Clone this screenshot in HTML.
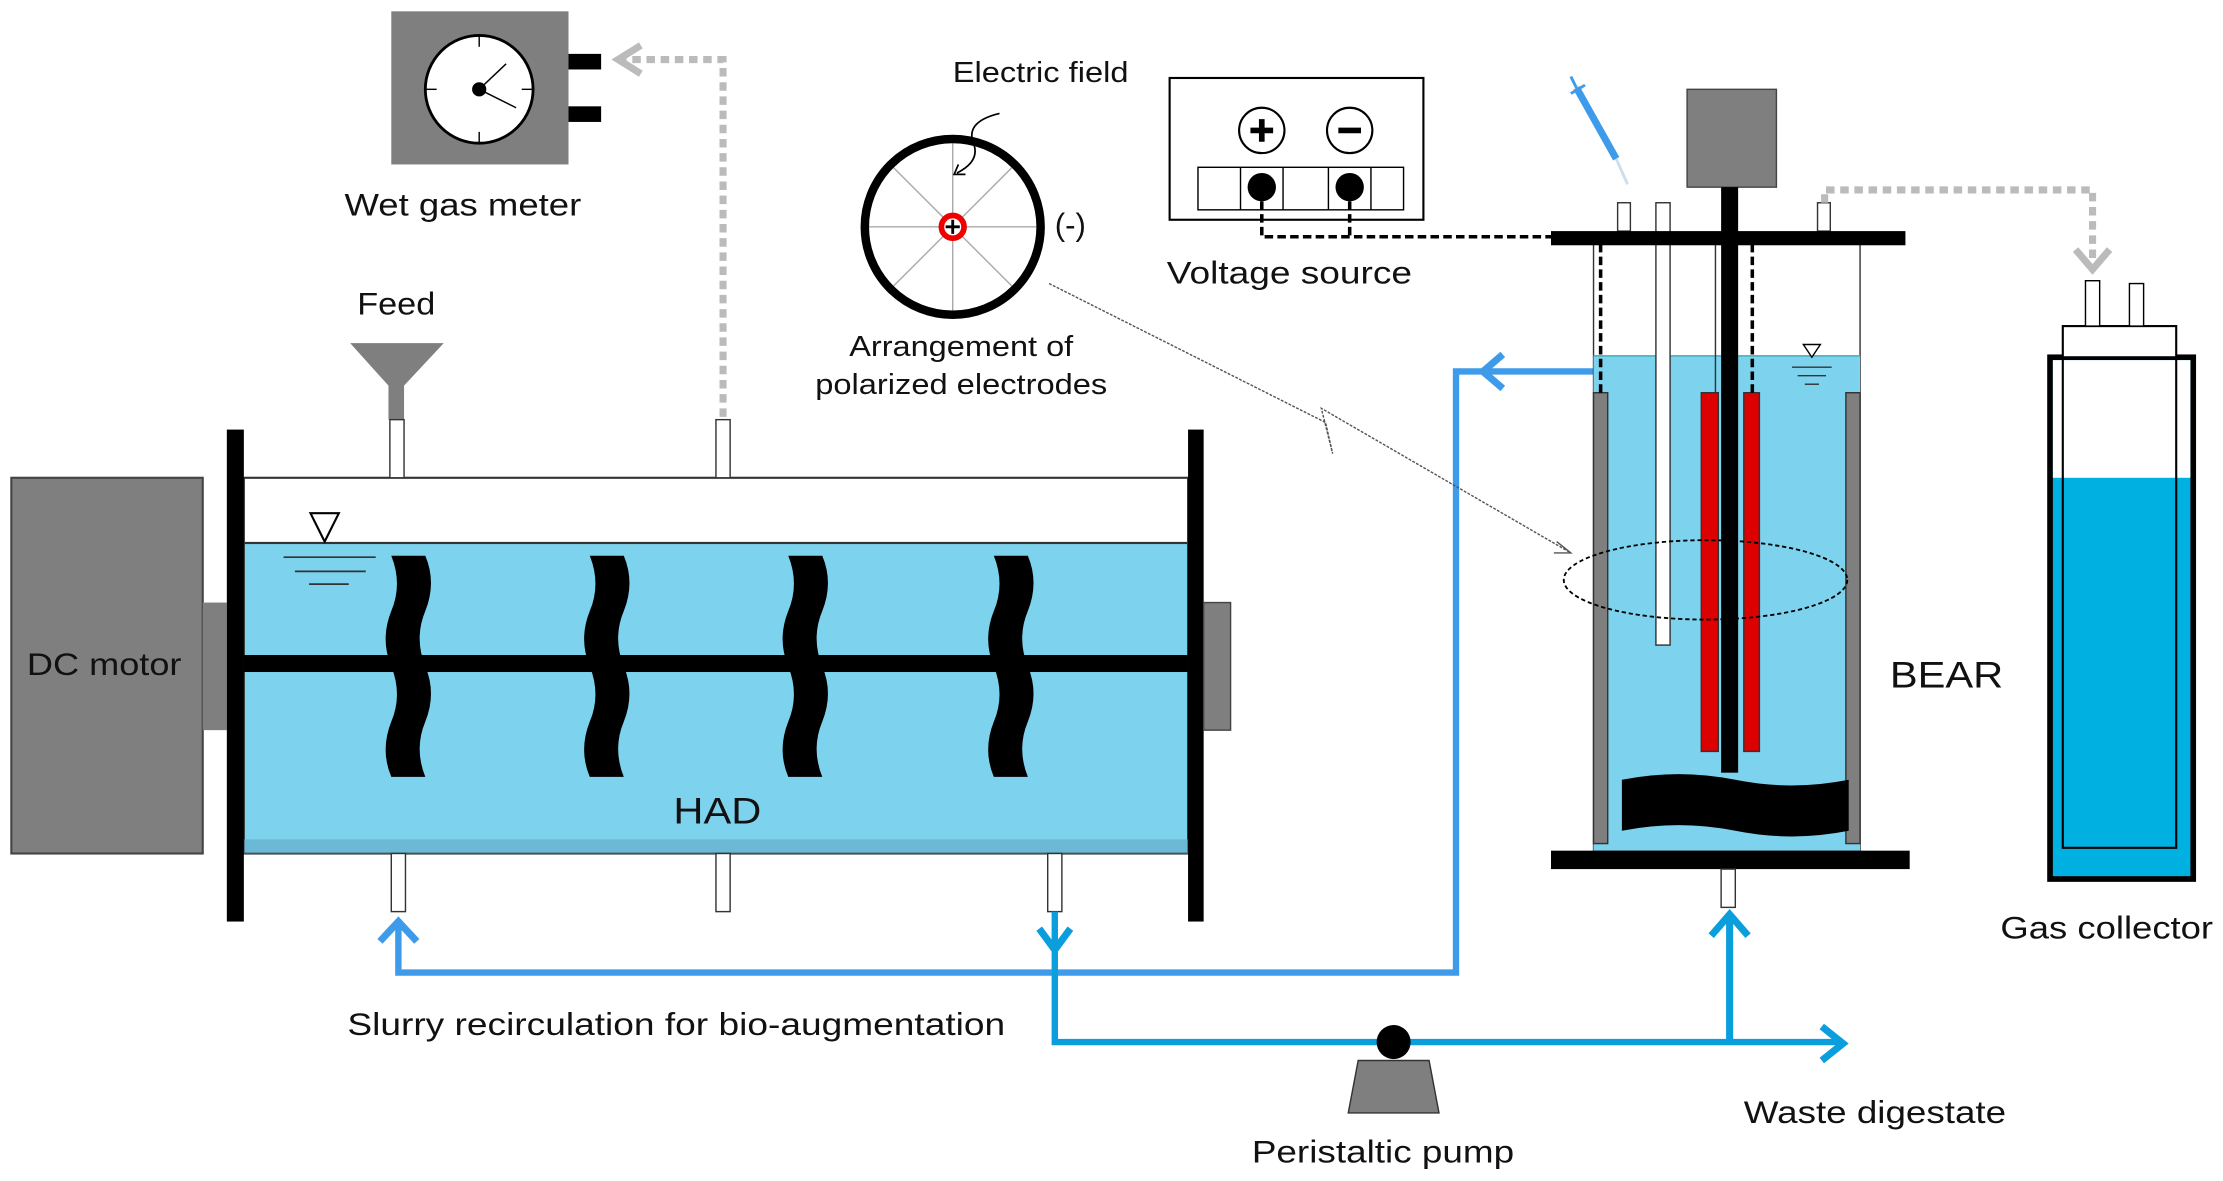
<!DOCTYPE html>
<html><head><meta charset="utf-8"><style>html,body{margin:0;padding:0;background:#fff}svg{display:block}text{font-family:"Liberation Sans",Arial,sans-serif;fill:#111}</style></head>
<body>
<svg width="2223" height="1181" viewBox="0 0 1568 833" preserveAspectRatio="none" xmlns="http://www.w3.org/2000/svg">
<!-- DC motor -->
<rect x="8" y="337" width="135" height="265" fill="#7f7f7f" stroke="#444" stroke-width="1.5"/>
<rect x="143" y="425" width="17" height="90" fill="#7f7f7f"/>
<text x="19" y="476" font-size="22" textLength="109" lengthAdjust="spacingAndGlyphs">DC motor</text>
<!-- HAD tank -->
<rect x="172" y="337" width="666" height="46" fill="#fff" stroke="#333" stroke-width="1.5"/>
<rect x="172" y="383" width="666" height="219" fill="#7dd3ee" stroke="#333" stroke-width="1.5"/>
<rect x="172" y="592" width="666" height="10" fill="#5fa9c4" opacity="0.6"/>
<rect x="160" y="303" width="12" height="347" fill="#000"/>
<rect x="838" y="303" width="11" height="347" fill="#000"/>
<rect x="849" y="425" width="19" height="90" fill="#7f7f7f" stroke="#444"/>
<rect x="172" y="462" width="666" height="12" fill="#000"/>
<g fill="#000">
<path id="pd" d="M276,392 h24 q8,19 0,39 q-8,19 0,39 q8,19 0,39 q-8,19 0,39 h-24 q-8,-19 0,-39 q8,-19 0,-39 q-8,-19 0,-39 q8,-19 0,-39z"/>
<use href="#pd" x="140"/>
<use href="#pd" x="280"/>
<use href="#pd" x="425"/>
</g>
<path d="M219,362 h20 l-10,20z" fill="#fff" stroke="#000" stroke-width="1.5"/>
<g stroke="#333" stroke-width="1.2"><line x1="200" y1="393" x2="265" y2="393"/><line x1="208" y1="403" x2="258" y2="403"/><line x1="218" y1="412" x2="246" y2="412"/></g>
<text x="475" y="581" font-size="26" textLength="62" lengthAdjust="spacingAndGlyphs">HAD</text>
<!-- feed -->
<path d="M247,242 h66 l-28,30 v24 h-11 v-24z" fill="#7f7f7f"/>
<rect x="275" y="296" width="10" height="41" fill="#fff" stroke="#333"/>
<text x="252" y="222" font-size="22" textLength="55" lengthAdjust="spacingAndGlyphs">Feed</text>
<rect x="505" y="296" width="10" height="41" fill="#fff" stroke="#333"/>
<rect x="276" y="602" width="10" height="41" fill="#fff" stroke="#333"/>
<rect x="505" y="602" width="10" height="41" fill="#fff" stroke="#333"/>
<rect x="739" y="602" width="10" height="41" fill="#fff" stroke="#333"/>
<!-- gray gas line -->
<path d="M510,294 V42 H440" fill="none" stroke="#bbb" stroke-width="5" stroke-dasharray="6,4"/>
<path d="M452,32 L436,42 L452,52" fill="none" stroke="#bbb" stroke-width="5"/>
<!-- wet gas meter -->
<rect x="276" y="8" width="125" height="108" fill="#7f7f7f"/>
<circle cx="338" cy="63" r="38" fill="#fff" stroke="#000" stroke-width="2"/>
<g stroke="#000" stroke-width="1"><line x1="338" y1="25" x2="338" y2="33"/><line x1="338" y1="93" x2="338" y2="101"/><line x1="300" y1="63" x2="308" y2="63"/><line x1="368" y1="63" x2="376" y2="63"/><line x1="338" y1="63" x2="357" y2="45"/><line x1="338" y1="63" x2="364" y2="76"/></g>
<circle cx="338" cy="63" r="5" fill="#000"/>
<rect x="401" y="38" width="23" height="11" fill="#000"/>
<rect x="401" y="75" width="23" height="11" fill="#000"/>
<text x="243" y="152" font-size="22" textLength="167" lengthAdjust="spacingAndGlyphs">Wet gas meter</text>
<!-- blue recirc -->
<path d="M281,652 V686 H1027 V262 H1124" fill="none" stroke="#3d9be9" stroke-width="4.5"/>
<path d="M268,664 L281,650 L294,664" fill="none" stroke="#3d9be9" stroke-width="5"/>
<path d="M1060,250 L1046,262 L1060,274" fill="none" stroke="#3d9be9" stroke-width="5"/>
<path d="M744,643 V735 H1298" fill="none" stroke="#0a9fdc" stroke-width="4.5"/>
<path d="M733,655 L744,670 L755,655" fill="none" stroke="#0a9fdc" stroke-width="5"/>
<path d="M1220,735 V645" fill="none" stroke="#0a9fdc" stroke-width="5"/>
<path d="M1207,660 L1220,645 L1233,660" fill="none" stroke="#0a9fdc" stroke-width="5"/>
<path d="M1285,724 L1300,736 L1285,748" fill="none" stroke="#0a9fdc" stroke-width="5"/>
<path d="M958,748 h50 l7,37 h-64z" fill="#7f7f7f" stroke="#333"/>
<circle cx="983" cy="735" r="12" fill="#000"/>
<text x="245" y="730" font-size="22" textLength="464" lengthAdjust="spacingAndGlyphs">Slurry recirculation for bio-augmentation</text>
<text x="883" y="820" font-size="22" textLength="185" lengthAdjust="spacingAndGlyphs">Peristaltic pump</text>
<text x="1230" y="792" font-size="22" textLength="185" lengthAdjust="spacingAndGlyphs">Waste digestate</text>
<!-- electric field diagram -->
<g stroke="#aaa" stroke-width="1"><line x1="612" y1="160" x2="732" y2="160"/><line x1="672" y1="100" x2="672" y2="220"/><line x1="630" y1="118" x2="714" y2="202"/><line x1="714" y1="118" x2="630" y2="202"/></g>
<circle cx="672" cy="160" r="62" fill="none" stroke="#000" stroke-width="6"/>
<circle cx="672" cy="160" r="8" fill="#fff" stroke="#e00" stroke-width="4"/>
<path d="M667,160 h10 M672,155 v10" stroke="#000" stroke-width="2"/>
<path d="M705,80 q-25,6 -18,22 q4,12 -12,20" fill="none" stroke="#000" stroke-width="1.2"/>
<path d="M676,116 l-3,7 l8,0" fill="none" stroke="#000" stroke-width="1.2"/>
<text x="672" y="58" font-size="20" textLength="124" lengthAdjust="spacingAndGlyphs">Electric field</text>
<text x="744" y="166" font-size="22">(-)</text>
<text x="599" y="251" font-size="20" textLength="158" lengthAdjust="spacingAndGlyphs">Arrangement of</text>
<text x="575" y="278" font-size="20" textLength="206" lengthAdjust="spacingAndGlyphs">polarized electrodes</text>
<path d="M740,200 L935,298 L940,320 L932,288 L1108,390" fill="none" stroke="#555" stroke-width="1" stroke-dasharray="2,1"/>
<path d="M1098,382 l10,8 l-12,0" fill="none" stroke="#555" stroke-width="1"/>
<!-- voltage source -->
<rect x="825" y="55" width="179" height="100" fill="#fff" stroke="#000" stroke-width="1.5"/>
<circle cx="890" cy="92" r="16" fill="#fff" stroke="#000" stroke-width="1.5"/>
<circle cx="952" cy="92" r="16" fill="#fff" stroke="#000" stroke-width="1.5"/>
<path d="M882,92 h16 M890,84 v16" stroke="#000" stroke-width="4"/>
<path d="M944,92 h16" stroke="#000" stroke-width="4"/>
<rect x="845" y="118" width="145" height="30" fill="#fff" stroke="#000"/>
<g stroke="#000"><line x1="875" y1="118" x2="875" y2="148"/><line x1="905" y1="118" x2="905" y2="148"/><line x1="937" y1="118" x2="937" y2="148"/><line x1="967" y1="118" x2="967" y2="148"/></g>
<circle cx="890" cy="132" r="10" fill="#000"/><circle cx="952" cy="132" r="10" fill="#000"/>
<path d="M890,142 V167 H1096 M952,142 V167" fill="none" stroke="#000" stroke-width="2.5" stroke-dasharray="6,3"/>
<text x="823" y="200" font-size="22" textLength="173" lengthAdjust="spacingAndGlyphs">Voltage source</text>
<!-- BEAR -->
<rect x="1124" y="172" width="188" height="428" fill="#fff" stroke="#333"/>
<rect x="1124" y="251" width="188" height="349" fill="#7dd3ee"/>
<line x1="1124" y1="251" x2="1312" y2="251" stroke="#4ab" stroke-width="1"/>
<rect x="1124" y="277" width="10" height="318" fill="#7f7f7f" stroke="#333"/>
<rect x="1302" y="277" width="10" height="318" fill="#7f7f7f" stroke="#333"/>
<rect x="1168" y="143" width="10" height="312" fill="#fff" stroke="#333"/>
<rect x="1141" y="143" width="9" height="20" fill="#fff" stroke="#333"/>
<rect x="1282" y="143" width="9" height="20" fill="#fff" stroke="#333"/>
<line x1="1210" y1="172" x2="1210" y2="277" stroke="#333"/>
<rect x="1200" y="277" width="12" height="253" fill="#d00" stroke="#333"/>
<rect x="1230" y="277" width="11" height="253" fill="#d00" stroke="#333"/>
<path d="M1129,172 V277 M1236,172 V277" stroke="#000" stroke-width="2.5" stroke-dasharray="6,3"/>
<rect x="1190" y="63" width="63" height="69" fill="#7f7f7f" stroke="#444"/>
<rect x="1214" y="132" width="12" height="413" fill="#000"/>
<path d="M1144,550 q40,-8 80,0 q40,8 80,0 v36 q-40,8 -80,0 q-40,-8 -80,0z" fill="#000"/>
<rect x="1094" y="163" width="250" height="10" fill="#000"/>
<rect x="1094" y="600" width="253" height="13" fill="#000"/>
<rect x="1214" y="613" width="10" height="27" fill="#fff" stroke="#333"/>
<ellipse cx="1203" cy="409" rx="100" ry="28" fill="none" stroke="#000" stroke-width="1.3" stroke-dasharray="3,2"/>
<path d="M1272,243 h12 l-6,9z" fill="#fff" stroke="#000"/>
<g stroke="#333"><line x1="1264" y1="259" x2="1292" y2="259"/><line x1="1268" y1="265" x2="1288" y2="265"/><line x1="1273" y1="271" x2="1283" y2="271"/></g>
<path d="M1112,62 L1140,112" stroke="#3d9be9" stroke-width="5"/>
<path d="M1108,66 l10,-6 M1112,62 l-4,-8" stroke="#3d9be9" stroke-width="2"/>
<path d="M1140,112 L1148,130" stroke="#cde" stroke-width="2"/>
<text x="1333" y="485" font-size="26" textLength="80" lengthAdjust="spacingAndGlyphs">BEAR</text>
<!-- gray line to gas collector -->
<path d="M1287,143 V134 H1476 V182" fill="none" stroke="#bbb" stroke-width="5" stroke-dasharray="6,4"/>
<path d="M1464,176 L1476,190 L1488,176" fill="none" stroke="#bbb" stroke-width="5"/>
<!-- gas collector -->
<rect x="1446" y="252" width="101" height="368" fill="#00b0e0" stroke="#000" stroke-width="4"/>
<rect x="1448" y="254" width="97" height="83" fill="#fff"/>
<rect x="1455" y="252" width="80" height="346" fill="none" stroke="#000" stroke-width="1.5"/>
<rect x="1455" y="230" width="80" height="22" fill="#fff" stroke="#000" stroke-width="1.5"/>
<rect x="1471" y="198" width="10" height="32" fill="#fff" stroke="#000"/>
<rect x="1502" y="200" width="10" height="30" fill="#fff" stroke="#000"/>
<text x="1411" y="662" font-size="22" textLength="150" lengthAdjust="spacingAndGlyphs">Gas collector</text>
</svg>
</body></html>
